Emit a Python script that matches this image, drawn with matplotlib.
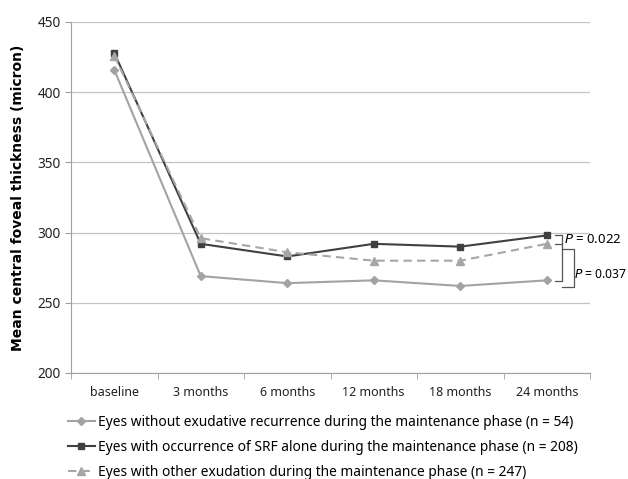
import matplotlib
matplotlib.use('Agg')
import matplotlib.pyplot as plt
import numpy as np

#%% Data

categories = ['baseline', '3 months', '6 months', '12 months', '18 months', '24 months']
no_recurrence = [416, 269, 264, 266, 262, 266]
srf_alone = [428, 292, 283, 292, 290, 298]
other_exudation = [426, 296, 286, 280, 280, 292]

labels = ['Eyes without exudative recurrence during the maintenance phase (n = 54)',
          'Eyes with occurrence of SRF alone during the maintenance phase (n = 208)',
          'Eyes with other exudation during the maintenance phase (n = 247)']

p_values = ['0.022', '0.037']

#%% Plot

plt.rcParams['font.family'] = ['Noto Sans', 'DejaVu Sans']

fig = plt.figure(figsize=(6.28, 4.79), dpi=100)
ax = fig.add_axes([71/628, 1 - 373/479, (590 - 71)/628, (373 - 22)/479])

x = np.arange(len(categories))
ax.plot(x, no_recurrence, color='#a3a3a3', lw=1.5, marker='D', ms=4.5, label=labels[0])
ax.plot(x, srf_alone, color='#404040', lw=1.5, marker='s', ms=5, label=labels[1])
ax.plot(x, other_exudation, color='#a6a6a6', lw=1.5, ls=(0, (4, 2.5)), marker='^', ms=6,
        label=labels[2])

ax.set_xlim(-0.5, len(categories) - 0.5)
ax.set_ylim(200, 450)
ax.set_yticks(range(200, 451, 50))
ax.set_xticks(x)
ax.set_xticklabels(categories, fontsize=9, color='#222222')
ax.set_xticks(np.arange(-0.5, len(categories), 1), minor=True)
ax.tick_params(axis='x', which='major', length=0, pad=9)
ax.tick_params(axis='x', which='minor', length=4, color='#a0a0a0', direction='out')
ax.tick_params(axis='y', labelsize=9.8, length=4, color='#a0a0a0', labelcolor='#222222')

ax.grid(axis='y', color='#c4c4c4', lw=0.9)
ax.set_axisbelow(True)
for side in ['top', 'right']:
    ax.spines[side].set_visible(False)
for side in ['left', 'bottom']:
    ax.spines[side].set_color('#a0a0a0')

ax.set_ylabel('Mean central foveal thickness (micron)', fontsize=10, fontweight='bold',
              family=['DejaVu Sans'], labelpad=9)

# significance brackets at 24 months
bk = dict(color='#555555', lw=0.9, clip_on=False)
ax.plot([5.10, 5.18, 5.18, 5.10], [298.3, 298.3, 291.6, 291.6], **bk)
ax.plot([5.18, 5.18, 5.10], [291.6, 265.7, 265.7], **bk)
ax.plot([5.18, 5.31, 5.31, 5.18], [288.6, 288.6, 261.0, 261.0], **bk)
ax.text(5.20, 295.0, '$\\it{P}$ = ' + p_values[0], fontsize=9.5, va='center', ha='left',
        clip_on=False)
ax.text(5.32, 270.5, '$\\it{P}$ = ' + p_values[1], fontsize=8.8, va='center', ha='left',
        clip_on=False)

fig.legend(loc='upper left', bbox_to_anchor=(62/628, 1 - 409/479), frameon=False,
           fontsize=9.9, handlelength=2.0, handletextpad=0.2, labelspacing=0.75,
           borderaxespad=0)

fig.savefig('out.png', dpi=100)
